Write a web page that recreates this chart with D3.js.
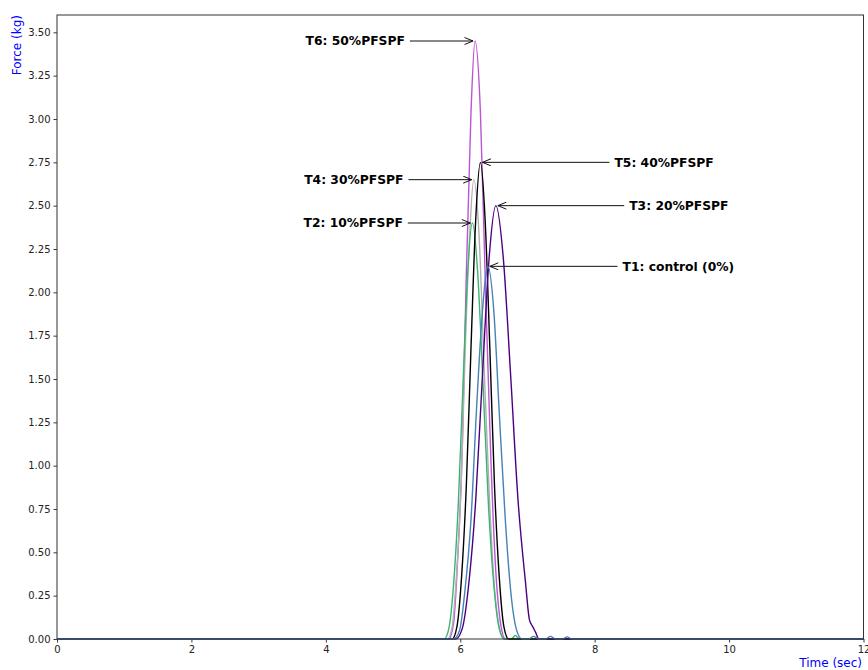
<!DOCTYPE html>
<html>
<head>
<meta charset="utf-8">
<script src="https://cdn.jsdelivr.net/npm/d3@7"></script>
<style>
  body { margin: 0; background: #fff; }
  svg { display: block; font-family: "DejaVu Sans", sans-serif; }
</style>
</head>
<body>
<div id="chart"></div>
<script>
// series names, in drawing order
var seriesNames = ['T6: 50%PFSPF', 'T4: 30%PFSPF', 'T2: 10%PFSPF', 'T5: 40%PFSPF', 'T3: 20%PFSPF', 'T1: control (0%)'];

// time (sec) and force (kg)
var t6Time  = [0, 5.83, 5.90, 5.96, 6.03, 6.09, 6.16, 6.22, 6.30, 6.37, 6.45, 6.52, 6.60, 6.67, 12];
var t6Force = [0, 0, 0.09, 0.45, 1.10, 2.10, 3.04, 3.45, 3.04, 2.10, 1.10, 0.45, 0.09, 0, 0];

var t4Time  = [0, 5.81, 5.88, 5.94, 6.01, 6.07, 6.14, 6.20, 6.28, 6.35, 6.43, 6.50, 6.58, 6.65, 12];
var t4Force = [0, 0, 0.07, 0.34, 0.85, 1.62, 2.33, 2.65, 2.33, 1.62, 0.85, 0.34, 0.07, 0, 0];

var t2Time  = [0, 5.76, 5.83, 5.90, 5.97, 6.04, 6.11, 6.18, 6.26, 6.34, 6.42, 6.50, 6.58, 6.66, 6.76, 6.82, 6.88, 12];
var t2Force = [0, 0, 0.06, 0.31, 0.77, 1.46, 2.11, 2.40, 2.11, 1.46, 0.77, 0.31, 0.06, 0, 0, 0.02, 0, 0];

var t5Time  = [0, 5.88, 5.95, 6.02, 6.09, 6.16, 6.23, 6.30, 6.37, 6.44, 6.51, 6.58, 6.65, 6.72, 12];
var t5Force = [0, 0, 0.07, 0.36, 0.88, 1.68, 2.42, 2.75, 2.42, 1.68, 0.88, 0.36, 0.07, 0, 0];

var t3Time  = [0, 5.93, 6.03, 6.13, 6.23, 6.33, 6.43, 6.53, 6.64, 6.75, 6.86, 6.97, 7.03, 7.08, 7.12, 7.17, 12];
var t3Force = [0, 0, 0.06, 0.33, 0.80, 1.52, 2.20, 2.50, 2.20, 1.52, 0.80, 0.33, 0.11, 0.07, 0.04, 0, 0];

var t1Time  = [0, 5.90, 5.99, 6.07, 6.16, 6.24, 6.33, 6.41, 6.50, 6.58, 6.67, 6.75, 6.84, 6.92, 7.02, 7.09, 7.17, 7.27, 7.34, 7.42, 7.52, 7.59, 7.66, 12];
var t1Force = [0, 0, 0.05, 0.28, 0.69, 1.31, 1.89, 2.15, 1.89, 1.31, 0.69, 0.28, 0.05, 0, 0, 0.015, 0, 0, 0.015, 0, 0, 0.012, 0, 0];

var seriesTimes  = [t6Time, t4Time, t2Time, t5Time, t3Time, t1Time];
var seriesForces = [t6Force, t4Force, t2Force, t5Force, t3Force, t1Force];
var seriesColors = ['#ba55d3', '#b0b0b0', '#3cb371', '#000000', '#4b0082', '#4682b4'];

// tick values
var xTicks = [0, 2, 4, 6, 8, 10, 12];
var yTicks = [0, 0.25, 0.5, 0.75, 1, 1.25, 1.5, 1.75, 2, 2.25, 2.5, 2.75, 3, 3.25, 3.5];

// where each annotation arrow starts (time), and which side the text sits
var labelTailTime = [5.25, 5.23, 5.22, 8.22, 8.44, 8.34];
var labelSide     = ['left', 'left', 'left', 'right', 'right', 'right'];

var width = 868, height = 670;
var margin = {top: 15, right: 4.5, bottom: 31, left: 57};

var svg = d3.select('#chart')
.append('svg')
.attr('width', width)
.attr('height', height);

var x = d3.scaleLinear().domain([0, 12]).range([margin.left, width - margin.right]);
var y = d3.scaleLinear().domain([0, 3.6]).range([height - margin.bottom, margin.top]);

// axes
var xAxis = d3.axisBottom(x).tickValues(xTicks).tickFormat(d3.format('d')).tickSizeOuter(0).tickSize(3.5).tickPadding(3);
var yAxis = d3.axisLeft(y).tickValues(yTicks).tickFormat(d3.format('.2f')).tickSizeOuter(0).tickSize(3.5).tickPadding(3);

var gx = svg.append('g')
.attr('transform', 'translate(0,' + (height - margin.bottom) + ')')
.call(xAxis);
var gy = svg.append('g')
.attr('transform', 'translate(' + margin.left + ',0)')
.call(yAxis);

[gx, gy].forEach(g => {
    g.select('.domain').remove();
    g.selectAll('.tick line').attr('stroke', '#222').attr('stroke-width', 0.9);
    g.selectAll('.tick text').attr('font-size', 10).attr('fill', '#222')
    .attr('font-family', '"DejaVu Sans", sans-serif');
});

// lines
var line = d3.line()
.x(d => x(d[0]))
.y(d => y(d[1]))
.curve(d3.curveMonotoneX);

seriesNames.forEach((name, i) => {
    var pts = seriesTimes[i].map((t, j) => [t, seriesForces[i][j]]);
    svg.append('path')
    .datum(pts)
    .attr('fill', 'none')
    .attr('stroke', seriesColors[i])
    .attr('stroke-width', 1.4)
    .attr('d', line);
});

// frame
svg.append('rect')
.attr('x', margin.left)
.attr('y', margin.top)
.attr('width', width - margin.right - margin.left)
.attr('height', height - margin.bottom - margin.top)
.attr('fill', 'none')
.attr('stroke', '#333')
.attr('stroke-width', 1);

// arrow head, open style
svg.append('defs').append('marker')
.attr('id', 'head')
.attr('viewBox', '0 0 10 8')
.attr('refX', 9.5)
.attr('refY', 4)
.attr('markerWidth', 10)
.attr('markerHeight', 8)
.attr('markerUnits', 'userSpaceOnUse')
.attr('orient', 'auto')
.append('path')
.attr('d', 'M1,0.5 L9.5,4 L1,7.5')
.attr('fill', 'none')
.attr('stroke', '#111')
.attr('stroke-width', 1);

// annotations pointing at each peak
seriesNames.forEach((name, i) => {
    var forces = seriesForces[i];
    var peak = d3.max(forces);
    var peakTime = seriesTimes[i][forces.indexOf(peak)];
    var py = y(peak);
    var tipX = labelSide[i] === 'left' ? x(peakTime) - 2 : x(peakTime) + 2;
    var tailX = x(labelTailTime[i]);

    svg.append('line')
    .attr('x1', tailX).attr('y1', py)
    .attr('x2', tipX).attr('y2', py)
    .attr('stroke', '#111')
    .attr('stroke-width', 1)
    .attr('marker-end', 'url(#head)');

    svg.append('text')
    .attr('x', labelSide[i] === 'left' ? tailX - 5 : tailX + 5)
    .attr('y', py)
    .attr('dy', '0.35em')
    .attr('text-anchor', labelSide[i] === 'left' ? 'end' : 'start')
    .attr('font-size', 12.3)
    .attr('font-weight', 'bold')
    .attr('fill', '#000')
    .text(name);
});

// axis titles
svg.append('text')
.attr('transform', 'translate(21,' + margin.top + ') rotate(-90)')
.attr('text-anchor', 'end')
.attr('font-size', 12)
.attr('fill', 'blue')
.text('Force (kg)');

svg.append('text')
.attr('x', width - 6)
.attr('y', 667)
.attr('text-anchor', 'end')
.attr('font-size', 12)
.attr('fill', 'blue')
.text('Time (sec)');
</script>
</body>
</html>
